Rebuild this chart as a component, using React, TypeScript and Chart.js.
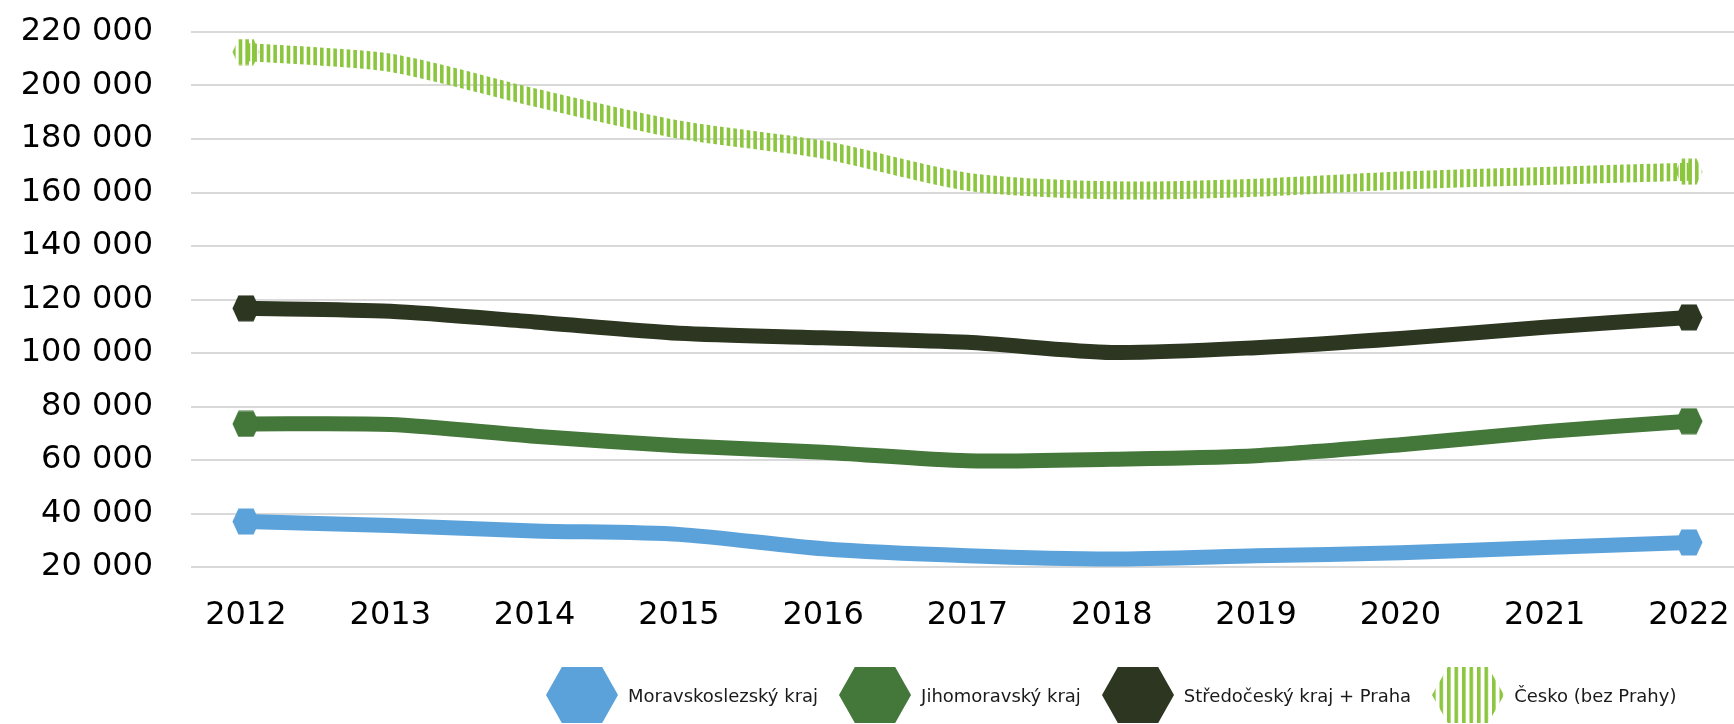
import React, { useEffect, useRef } from 'react';
import { Chart, registerables } from 'chart.js';

Chart.register(...registerables);

const years = [2012, 2013, 2014, 2015, 2016, 2017, 2018, 2019, 2020, 2021, 2022];
const yTicks = [20000, 40000, 60000, 80000, 100000, 120000, 140000, 160000, 180000, 200000, 220000];

const moravskoslezsky = [37000, 35500, 33500, 32200, 26800, 24200, 23000, 24200, 25300, 27300, 29200];
const jihomoravsky = [73500, 73300, 68900, 65300, 62900, 59700, 60300, 61600, 65700, 70600, 74500];
const stredocesky = [116700, 115600, 111600, 107400, 105700, 104000, 100200, 102000, 105400, 109600, 113300];
const cesko = [212500, 208500, 195500, 183500, 176000, 164000, 160800, 161800, 164500, 166200, 167800];

const seriesNames = ['Moravskoslezský kraj', 'Jihomoravský kraj', 'Středočeský kraj + Praha', 'Česko (bez Prahy)'];
const seriesValues = [moravskoslezsky, jihomoravsky, stredocesky, cesko];
const seriesColors = ['#5CA2DA', '#44773A', '#2C3620', '#8CC63F'];
const striped = [false, false, false, true];

const FONT = '"DejaVu Sans", sans-serif';

function hexPath(ctx: CanvasRenderingContext2D, x: number, y: number, w: number, h: number) {
  ctx.beginPath();
  ctx.moveTo(x, y + h / 2);
  ctx.lineTo(x + w * 0.22, y);
  ctx.lineTo(x + w * 0.78, y);
  ctx.lineTo(x + w, y + h / 2);
  ctx.lineTo(x + w * 0.78, y + h);
  ctx.lineTo(x + w * 0.22, y + h);
  ctx.closePath();
}

function makeStripeTile(color: string) {
  const c = document.createElement('canvas');
  c.width = 20;
  c.height = 4;
  const g = c.getContext('2d')!;
  g.fillStyle = color;
  for (let i = 0; i < 3; i++) g.fillRect(i * (20 / 3), 0, 3.6, 4);
  return c;
}

function makeMarker(color: string, isStriped: boolean) {
  const w = 28, h = 27;
  const c = document.createElement('canvas');
  c.width = w;
  c.height = h;
  const g = c.getContext('2d')!;
  hexPath(g, 0.5, 0.5, w - 1, h - 1);
  if (isStriped) {
    const p = g.createPattern(makeStripeTile(color), 'repeat');
    g.fillStyle = p as CanvasPattern;
  } else {
    g.fillStyle = color;
  }
  g.fill();
  return c;
}

function fmt(v: number) {
  return String(v).replace(/\B(?=(\d{3})+(?!\d))/g, ' ');
}

function LegendHex({ color, isStriped, id }: { color: string; isStriped: boolean; id: string }) {
  const w = 72, h = 56;
  const pts = [
    [0, h / 2], [w * 0.22, 0], [w * 0.78, 0], [w, h / 2], [w * 0.78, h], [w * 0.22, h],
  ].map((p) => p.join(',')).join(' ');
  return (
    <svg width={w} height={h} style={{ display: 'block', flex: 'none' }}>
      {isStriped && (
        <defs>
          <pattern id={id} patternUnits="userSpaceOnUse" width={7.5} height={10}>
            <rect x={0} y={0} width={3.6} height={10} fill={color} />
          </pattern>
        </defs>
      )}
      <polygon points={pts} fill={isStriped ? `url(#${id})` : color} />
    </svg>
  );
}

export default function App() {
  const canvasRef = useRef<HTMLCanvasElement | null>(null);

  useEffect(() => {
    document.body.style.margin = '0';
    const canvas = canvasRef.current!;
    const ctx = canvas.getContext('2d')!;
    const stripePattern = ctx.createPattern(makeStripeTile(seriesColors[3]), 'repeat');
    const markers = seriesColors.map((c, i) => makeMarker(c, striped[i]));
    const last = years.length - 1;

    const chart = new Chart(canvas, {
      type: 'line',
      data: {
        datasets: seriesNames.map((name, i) => ({
          label: name,
          data: seriesValues[i].map((v, j) => ({ x: years[j], y: v })),
          borderColor: striped[i] ? (stripePattern as any) : seriesColors[i],
          backgroundColor: seriesColors[i],
          borderWidth: striped[i] ? 18 : 15,
          tension: 0.25,
          fill: false,
          clip: false as any,
          borderCapStyle: 'butt',
          borderJoinStyle: 'round',
          pointStyle: markers[i] as any,
          pointRadius: (c: any) => (c.dataIndex === 0 || c.dataIndex === last ? 13 : 0),
          pointHoverRadius: 0,
          pointHitRadius: 0,
        })),
      },
      options: {
        animation: false,
        responsive: false,
        events: [],
        layout: { autoPadding: false, padding: { top: 32, left: 0, right: 0, bottom: 0 } },
        plugins: {
          legend: { display: false },
          tooltip: { enabled: false },
        },
        scales: {
          x: {
            type: 'linear',
            min: 2011.619,
            max: 2022.312,
            afterBuildTicks: (s: any) => {
              s.ticks = years.map((v) => ({ value: v }));
            },
            afterFit: (s: any) => {
              s.height = 157;
              s.paddingLeft = 0;
              s.paddingRight = 0;
            },
            grid: { display: false, drawTicks: false },
            border: { display: false },
            ticks: {
              callback: (v: any) => String(v),
              color: '#000',
              font: { family: FONT, size: 32 },
              padding: 29,
              maxRotation: 0,
              autoSkip: false,
            },
          },
          y: {
            min: 20000,
            max: 220000,
            afterBuildTicks: (s: any) => {
              s.ticks = yTicks.map((v) => ({ value: v }));
            },
            afterFit: (s: any) => {
              s.width = 191;
              s.paddingTop = 0;
              s.paddingBottom = 0;
            },
            grid: { color: '#D9D9D9', lineWidth: 2, drawTicks: false },
            border: { display: false },
            ticks: {
              callback: (v: any) => fmt(Number(v)),
              color: '#000',
              font: { family: FONT, size: 32 },
              padding: 38,
            },
          },
        },
      },
    });
    return () => chart.destroy();
  }, []);

  return (
    <div style={{ position: 'relative', width: 1734, height: 724, overflow: 'hidden', background: '#fff' }}>
      <canvas ref={canvasRef} width={1734} height={724} style={{ display: 'block' }} />
      <div
        style={{
          position: 'absolute',
          left: 546,
          top: 667,
          height: 56,
          display: 'flex',
          alignItems: 'center',
          fontFamily: FONT,
          fontSize: 18,
          color: '#1a1a1a',
          whiteSpace: 'nowrap',
        }}
      >
        {seriesNames.map((name, i) => (
          <div key={name} style={{ display: 'flex', alignItems: 'center', marginRight: i < seriesNames.length - 1 ? 21 : 0 }}>
            <LegendHex color={seriesColors[i]} isStriped={striped[i]} id={`lg-stripe-${i}`} />
            <span style={{ marginLeft: 10 }}>{name}</span>
          </div>
        ))}
      </div>
    </div>
  );
}
